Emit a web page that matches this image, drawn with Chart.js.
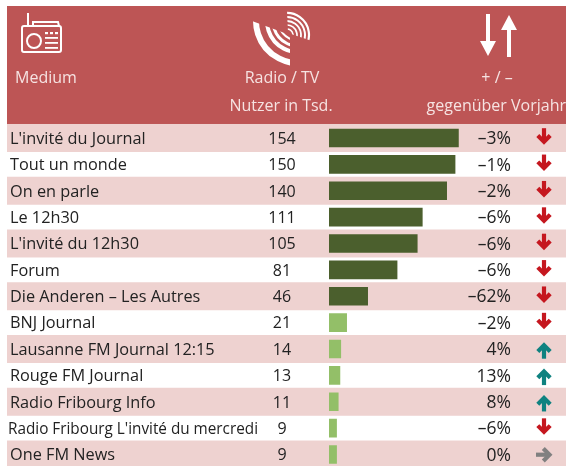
<!DOCTYPE html>
<html><head><meta charset="utf-8">
<style>html,body{margin:0;padding:0;background:#fff;overflow:hidden}#w{width:566px;height:466px;position:relative;overflow:hidden}canvas{display:block}</style>
<script src="https://cdn.jsdelivr.net/npm/chart.js@4"></script></head>
<body><div id="w"><canvas id="c" width="566" height="468"></canvas></div>
<script>
const categories=["L'invité du Journal","Tout un monde","On en parle","Le 12h30","L'invité du 12h30","Forum","Die Anderen – Les Autres","BNJ Journal","Lausanne FM Journal 12:15","Rouge FM Journal","Radio Fribourg Info","Radio Fribourg L'invité du mercredi","One FM News"];
const users=[154,150,140,111,105,81,46,21,14,13,11,9,9];
const changeLabels=["–3%","–1%","–2%","–6%","–6%","–6%","–62%","–2%","4%","13%","8%","–6%","0%"];
const directions=["down","down","down","down","down","down","down","down","up","up","up","down","flat"];
const barGroups=["dark","dark","dark","dark","dark","dark","dark","light","light","light","light","light","light"];
const headers=["Medium","Radio / TV","Nutzer in Tsd.","+ / –","gegenüber Vorjahr"];
const FONT='"Open Sans"';
const TXT='#222';
function radio(g){g.save();g.strokeStyle='#fff';g.fillStyle='#fff';g.lineWidth=2;
 g.beginPath();g.roundRect(22,26,39,26,2);g.stroke();
 g.beginPath();g.moveTo(28,26);g.lineTo(28,13);g.stroke();
 g.beginPath();g.moveTo(33,26);g.lineTo(33,22);g.lineTo(58,22);g.lineTo(59,26);g.stroke();
 g.beginPath();g.arc(34,41,7,0,Math.PI*2);g.stroke();
 [45,50,55].forEach(x=>g.fillRect(x,32,3,2.2));
 [37,42,47].forEach(y=>g.fillRect(45,y,13,1.8));g.restore();}
function broadcast(g){g.save();g.strokeStyle='#fff';g.lineCap='butt';
 g.save();g.beginPath();g.moveTo(252,21);g.lineTo(290,35);g.lineTo(290,68);g.lineTo(252,68);g.closePath();g.clip();
 [[42,6],[31,4],[25,3],[19.5,2.2]].forEach(a=>{g.beginPath();g.lineWidth=a[1];g.arc(298,21,a[0],Math.PI*0.4,Math.PI*1.05);g.stroke();});
 g.restore();
 g.save();g.beginPath();g.moveTo(287,10);g.lineTo(315,10);g.lineTo(315,42);g.lineTo(288,33);g.closePath();g.clip();
 [[22,2.2],[18,2],[14,1.8],[10,1.7],[6,1.6]].forEach(a=>{g.beginPath();g.lineWidth=a[1];g.arc(287,35,a[0],-Math.PI*0.55,Math.PI*0.1);g.stroke();});
 g.restore();
 g.restore();}
function headArrows(g){g.save();g.fillStyle='#fff';
 g.fillRect(486,14,4,28);g.beginPath();g.moveTo(480,41);g.lineTo(496,41);g.lineTo(488,56);g.closePath();g.fill();
 g.fillRect(507,29,4,28);g.beginPath();g.moveTo(501,30);g.lineTo(517,30);g.lineTo(509,15);g.closePath();g.fill();g.restore();}
const arrowColors={down:'#C5171F',up:'#0F8280',flat:'#808080'};
const arrowAngles={down:0,up:Math.PI,flat:-Math.PI/2};
const arrowShift={down:-3,up:0.5,flat:-1};
function rowArrow(g,d,cx,cy){g.save();g.lineWidth=4.2;g.lineJoin='miter';g.lineCap='butt';
 g.translate(cx,cy+arrowShift[d]);
 g.strokeStyle=arrowColors[d];g.rotate(arrowAngles[d]);
 g.beginPath();g.moveTo(0,-8);g.lineTo(0,5);g.stroke();
 g.beginPath();g.moveTo(-6.2,-0.7);g.lineTo(0,5.5);g.lineTo(6.2,-0.7);g.stroke();g.restore();}
const decor={id:'decor',
 beforeDatasetsDraw(ch){const g=ch.ctx,y=ch.scales.y;g.save();
  g.fillStyle='#BD5555';g.fillRect(7,6,559,118);
  g.fillStyle='#EED2D0';
  categories.forEach((c,i)=>{if(i%2===0){const p=y.getPixelForValue(i);g.fillRect(7,p-14,559,28);}});
  g.restore();},
 afterDatasetsDraw(ch){const g=ch.ctx,y=ch.scales.y;g.save();
  radio(g);broadcast(g);headArrows(g);
  g.textBaseline='middle';g.fillStyle='#F6E3E2';g.font='16px '+FONT;
  g.textAlign='left';g.fillText(headers[0],15,78);
  g.textAlign='center';g.fillText(headers[1],282,78);g.fillText(headers[2],281,106);g.fillText(headers[3],497,78);
  g.textAlign='right';g.fillText(headers[4],566,106);
  categories.forEach((c,i)=>{const p=y.getPixelForValue(i)+1.2;g.fillStyle=TXT;g.font='16.3px '+FONT;
   g.textAlign='left';
   if(i===11)g.fillText(c,8,p,250);else g.fillText(c,10,p);
   g.font='16px '+FONT;g.textAlign='center';g.fillText(String(users[i]),282,p);
   g.textAlign='right';g.font='17.5px '+FONT;g.fillText(changeLabels[i],511,p);
   rowArrow(g,directions[i],544,p);});
  g.restore();}};
new Chart(document.getElementById('c'),{type:'bar',
 data:{labels:categories,datasets:[{data:users,
  backgroundColor:barGroups.map(b=>b==='dark'?'#4B5F2D':'#93BF68'),
  borderWidth:0,barThickness:18}]},
 options:{indexAxis:'y',responsive:false,animation:false,
  layout:{padding:{left:329,top:124.8,right:0,bottom:0.3}},
  plugins:{legend:{display:false},tooltip:{enabled:false}},
  scales:{x:{display:false,min:0,max:282},y:{display:false,grid:{display:false}}}},
 plugins:[decor]});
</script></body></html>
